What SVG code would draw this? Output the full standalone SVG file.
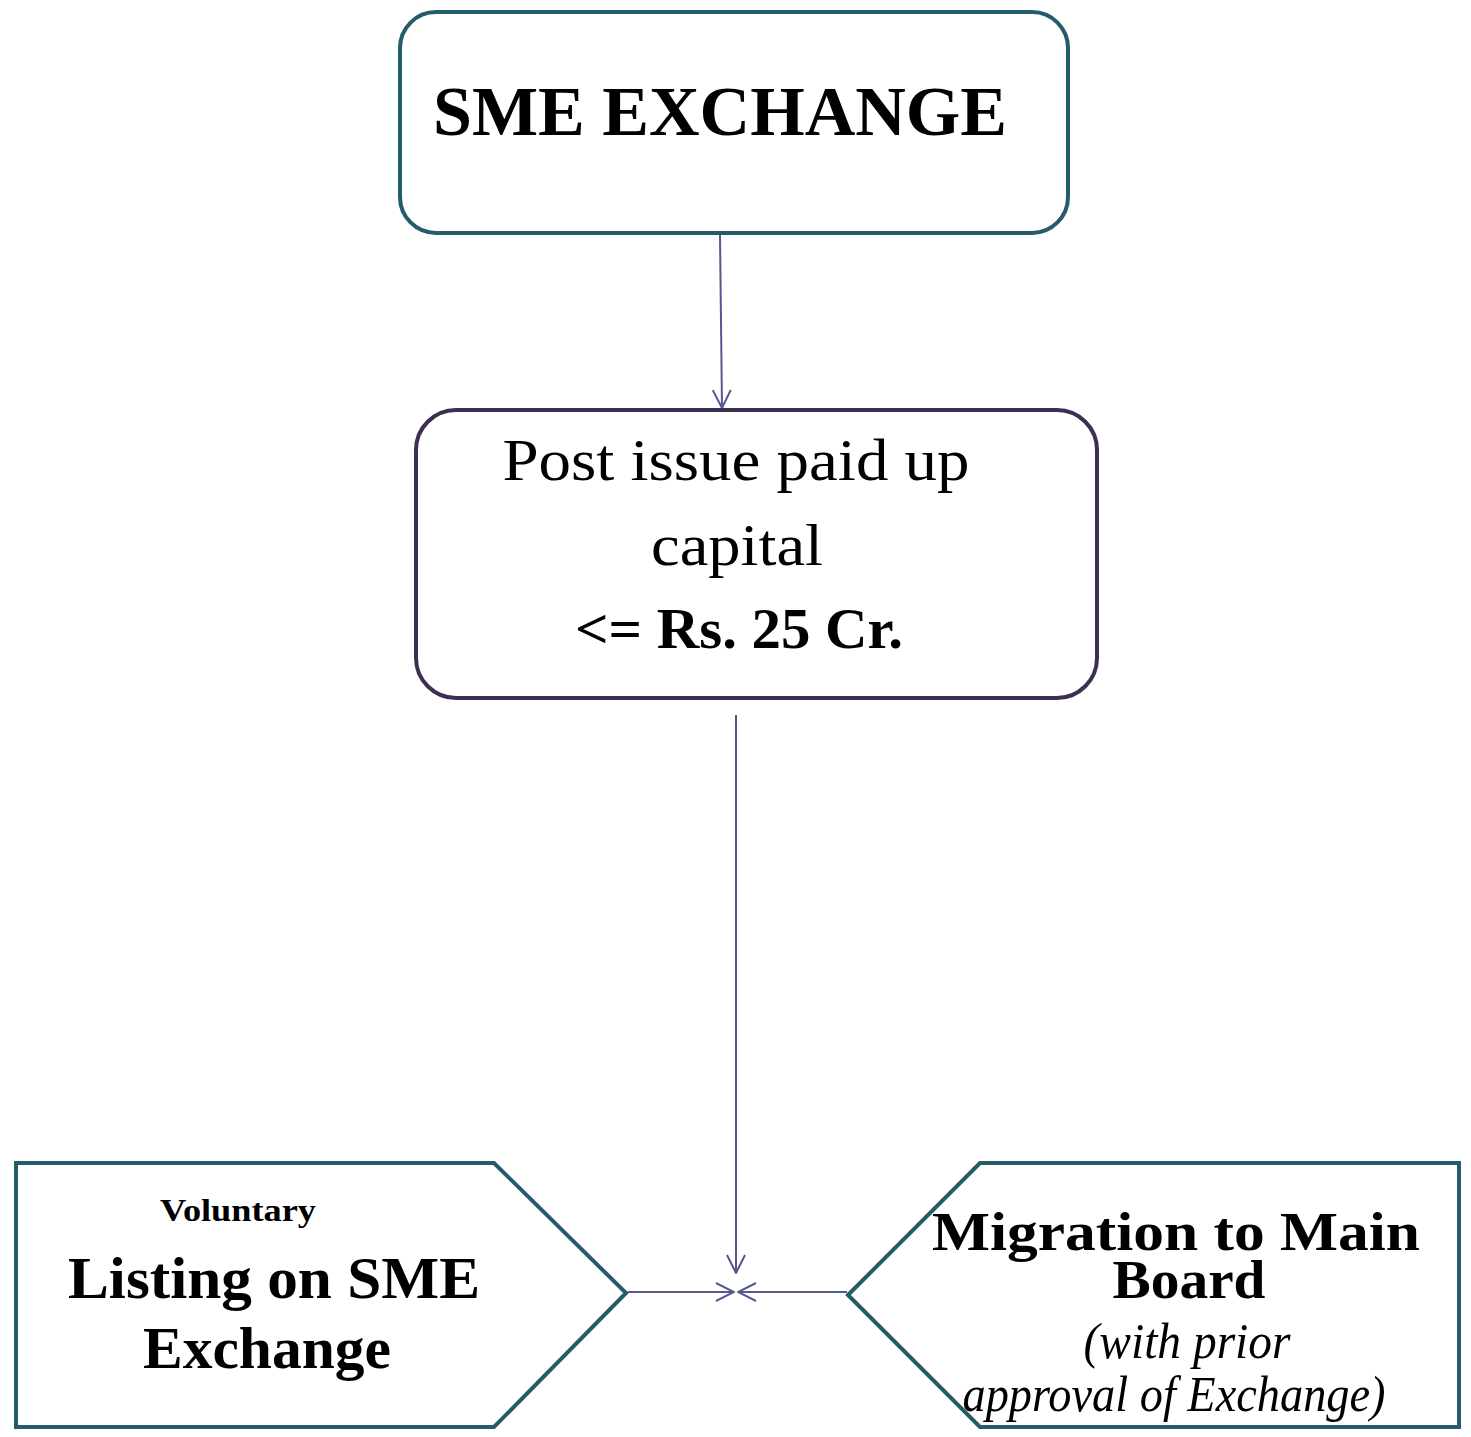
<svg xmlns="http://www.w3.org/2000/svg" width="1471" height="1437" viewBox="0 0 1471 1437">
<style>
  .teal { fill: #ffffff; stroke: #255C6A; stroke-width: 4; }
  .purple { fill: #ffffff; stroke: #3E2F52; stroke-width: 4; }
  .conn { fill: none; stroke: #56578F; stroke-width: 2; marker-end: url(#arr); }
  text { font-family: "Liberation Serif", "DejaVu Serif", serif; fill: #000; }
  .b { font-weight: bold; }
  .i { font-style: italic; }
</style>
<defs>
  <marker id="arr" viewBox="0 0 20 20" refX="19" refY="10" markerWidth="20" markerHeight="20" markerUnits="userSpaceOnUse" orient="auto">
    <path d="M1,1 L19,10 L1,19" fill="none" stroke="#56578F" stroke-width="2"/>
  </marker>
</defs>
<rect width="1471" height="1437" fill="#ffffff"/>
<g id="connectors">
  <line class="conn" x1="720" y1="235" x2="722" y2="408"/>
  <line class="conn" x1="736" y1="715" x2="736" y2="1273"/>
  <line class="conn" x1="628" y1="1292" x2="734" y2="1292"/>
  <line class="conn" x1="847" y1="1292" x2="738" y2="1292"/>
</g>
<g id="sme-exchange">
  <rect class="teal" x="400" y="12" width="668" height="221" rx="36"/>
  <text class="b" x="433" y="135" font-size="70" textLength="574" lengthAdjust="spacingAndGlyphs">SME EXCHANGE</text>
</g>
<g id="paid-up-capital">
  <rect class="purple" x="416" y="410" width="681" height="288" rx="40"/>
  <text x="736" y="480" font-size="60" text-anchor="middle" textLength="467" lengthAdjust="spacingAndGlyphs">Post issue paid up</text>
  <text x="737" y="565" font-size="60" text-anchor="middle" textLength="172" lengthAdjust="spacingAndGlyphs">capital</text>
  <text class="b" x="739" y="648" font-size="56" text-anchor="middle" textLength="328" lengthAdjust="spacingAndGlyphs">&lt;= Rs. 25 Cr.</text>
</g>
<g id="listing-sme">
  <polygon class="teal" points="16,1163 494,1163 626,1293 494,1427 16,1427"/>
  <text class="b" x="238" y="1221" font-size="32" text-anchor="middle" textLength="156" lengthAdjust="spacingAndGlyphs">Voluntary</text>
  <text class="b" x="274" y="1298" font-size="60" text-anchor="middle" textLength="412" lengthAdjust="spacingAndGlyphs">Listing on SME</text>
  <text class="b" x="267" y="1368" font-size="60" text-anchor="middle" textLength="248" lengthAdjust="spacingAndGlyphs">Exchange</text>
</g>
<g id="migration-main-board">
  <polygon class="teal" points="848,1295 980,1163 1459,1163 1459,1427 980,1427"/>
  <text class="b" x="1176" y="1250" font-size="55" text-anchor="middle" textLength="488" lengthAdjust="spacingAndGlyphs">Migration to Main</text>
  <text class="b" x="1189" y="1298" font-size="55" text-anchor="middle" textLength="153" lengthAdjust="spacingAndGlyphs">Board</text>
  <text class="i" x="1187" y="1358" font-size="50" text-anchor="middle" textLength="207" lengthAdjust="spacingAndGlyphs">(with prior</text>
  <text class="i" x="1174" y="1411" font-size="50" text-anchor="middle" textLength="423" lengthAdjust="spacingAndGlyphs">approval of Exchange)</text>
</g>
</svg>
